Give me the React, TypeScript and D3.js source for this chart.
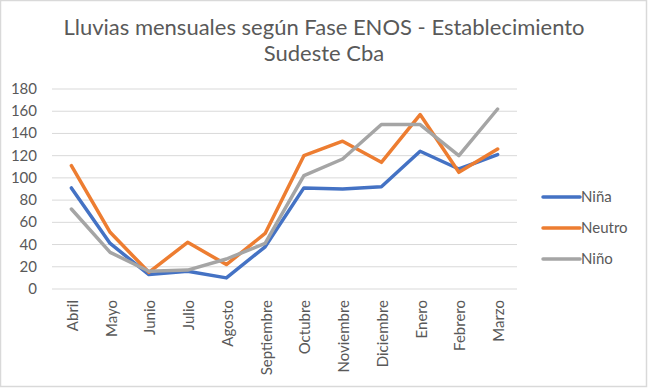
import React from "react";
import * as d3 from "d3";

const months = ["Abril", "Mayo", "Junio", "Julio", "Agosto", "Septiembre", "Octubre", "Noviembre", "Diciembre", "Enero", "Febrero", "Marzo"];
const nina = [91, 41, 13, 16, 10, 38, 91, 90, 92, 124, 108, 121];
const neutro = [111, 51, 15, 42, 22, 50, 120, 133, 114, 157, 105, 126];
const nino = [72, 33, 16, 17, 27, 41, 102, 117, 148, 148, 120, 162];
const seriesNames = ["Niña", "Neutro", "Niño"];
const seriesColors = ["#4472C4", "#ED7D31", "#A5A5A5"];
const yTicks = [0, 20, 40, 60, 80, 100, 120, 140, 160, 180];
const titleLines = ["Lluvias mensuales según Fase ENOS - Establecimiento", "Sudeste Cba"];

const W = 648;
const H = 388;
const FONT = "Lato, 'Open Sans', sans-serif";
const TXT = "#595959";
const FS = 15;

export default function App() {
  const x = d3.scaleBand<string>().domain(months).range([52, 517]);
  const y = d3.scaleLinear().domain([0, 180]).range([289, 89]);
  const line = d3
    .line<number>()
    .x((_, i) => (x(months[i]) as number) + x.bandwidth() / 2)
    .y((d) => y(d));
  const data = [nina, neutro, nino];

  return (
    <svg
      width={W}
      height={H}
      style={{ position: "absolute", left: 0, top: 0, background: "#fff" }}
      fontFamily={FONT}
    >
      <rect x={0.5} y={0.5} width={646} height={386} fill="#fff" stroke="#d9d9d9" strokeWidth={1.5} />
      {titleLines.map((t, i) => (
        <text key={i} x={324} y={35 + i * 26} textAnchor="middle" fontSize={22} fill={TXT}>
          {t}
        </text>
      ))}
      {yTicks.map((t) => (
        <g key={t}>
          <line x1={52} x2={517} y1={y(t)} y2={y(t)} stroke="#d9d9d9" strokeWidth={1} />
          <text x={37} y={y(t) + 5} textAnchor="end" fontSize={FS} fill={TXT}>
            {t}
          </text>
        </g>
      ))}
      {months.map((m) => {
        const cx = (x(m) as number) + x.bandwidth() / 2 + 6.5;
        return (
          <text
            key={m}
            transform={`translate(${cx},300) rotate(-90)`}
            textAnchor="end"
            fontSize={FS}
            fill={TXT}
          >
            {m}
          </text>
        );
      })}
      {data.map((s, i) => (
        <path
          key={i}
          d={line(s) as string}
          fill="none"
          stroke={seriesColors[i]}
          strokeWidth={3.5}
          strokeLinejoin="round"
          strokeLinecap="round"
        />
      ))}
      {seriesNames.map((n, i) => {
        const ly = 197 + i * 31;
        return (
          <g key={n}>
            <line x1={543} x2={580} y1={ly} y2={ly} stroke={seriesColors[i]} strokeWidth={3.5} strokeLinecap="round" />
            <text x={581} y={ly + 5} fontSize={FS} fill={TXT}>
              {n}
            </text>
          </g>
        );
      })}
    </svg>
  );
}
